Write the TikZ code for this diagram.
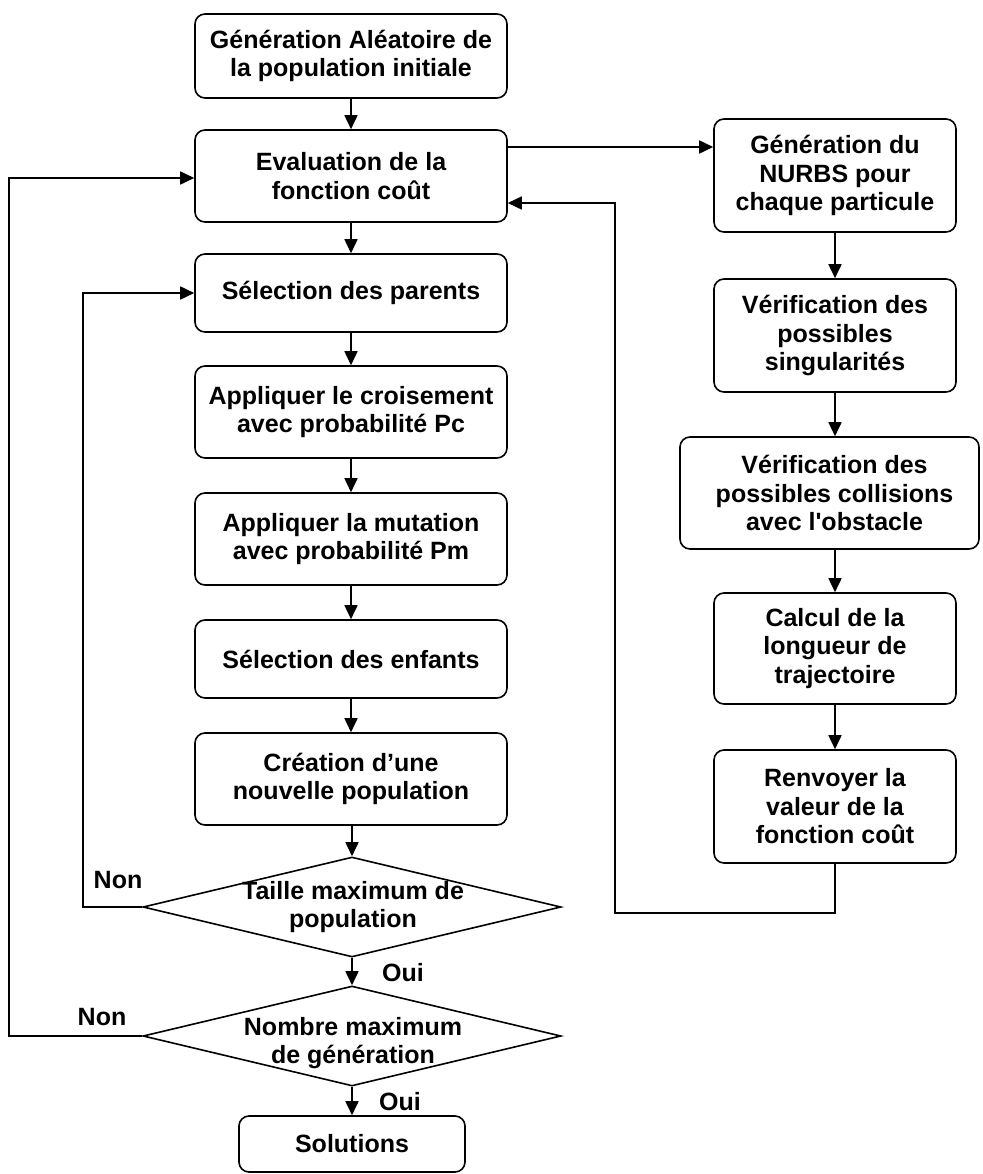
\documentclass[tikz,border=0pt]{standalone}
\usepackage{fontspec}
\setmainfont{Liberation Sans}[Ligatures=TeXOff]
\usetikzlibrary{arrows.meta,shapes.geometric,calc}
\begin{document}
\begin{tikzpicture}[x=1pt,y=-1pt,
  every node/.style={font=\bfseries\fontsize{25}{28.5}\selectfont},
  box/.style={draw, rounded corners=10pt, line width=1.6pt, align=center, inner sep=0pt},
  lbox/.style={box, minimum width=312pt},
  rbox/.style={box, minimum width=242pt, minimum height=112pt},
  dia/.style={draw, diamond, line width=1.6pt, minimum width=418pt, minimum height=100pt, inner sep=0pt},
  arr/.style={line width=1.7pt, -{Triangle[length=14pt,width=13pt]}},
  lbl/.style={inner sep=0pt}
]
\useasboundingbox (0,0) rectangle (982,1174);

% left column
\node[lbox, minimum height=84pt] (b1) at (351,56) {Génération Aléatoire de\\la population initiale};
\node[lbox, minimum height=92pt] (b2) at (351,176) {Evaluation de la\\fonction coût};
\node[lbox, minimum height=78pt] (b3) at (351,293) {Sélection des parents};
\node[lbox, minimum height=92pt] (b4) at (351,412) {Appliquer le croisement\\avec probabilité Pc};
\node[lbox, minimum height=92pt] (b5) at (351,539) {Appliquer la mutation\\avec probabilité Pm};
\node[lbox, minimum height=78pt] (b6) at (351,659) {Sélection des enfants};
\node[lbox, minimum height=92pt] (b7) at (351,779) {Création d’une\\nouvelle population};
\node[dia] (d1) at (352,907) {};
\node[lbl, align=center] (d1t) at (353,907) {Taille maximum de\\population};
\node[dia] (d2) at (352,1036) {};
\node[lbl, align=center] (d2t) at (353,1043) {Nombre maximum\\de génération};
\node[box, minimum width=226pt, minimum height=56pt] (sol) at (352,1144) {Solutions};

% right column
\node[rbox, minimum height=113pt] (r1) at (835,175.5) {Génération du\\NURBS pour\\chaque particule};
\node[rbox, minimum height=113pt] (r2) at (835,335.5) {Vérification des\\possibles\\singularités};
\node[box, minimum width=299pt, minimum height=112pt] (r3) at (829.5,493) {\hspace*{10pt}Vérification des\\\hspace*{10pt}possibles collisions\\\hspace*{10pt}avec l'obstacle};
\node[rbox, minimum height=111pt] (r4) at (835,648.5) {Calcul de la\\longueur de\\trajectoire};
\node[rbox, minimum height=113pt] (r5) at (835,806.5) {Renvoyer la\\valeur de la\\fonction coût};

% labels
\node[lbl] (non1) at (118,880) {Non};
\node[lbl] (non2) at (102,1017) {Non};
\node[lbl] (oui1) at (403,973) {Oui};
\node[lbl] (oui2) at (400,1102) {Oui};

% helper coordinates
\coordinate (l1) at (83,907);
\coordinate (l2) at (9,1036);
\coordinate (fb) at (615,913);
\coordinate (b2out) at ([yshift=29pt]b2.east);
\coordinate (b2in) at ([yshift=-27pt]b2.east);
\coordinate (b2left) at ([yshift=-2pt]b2.west);

% main flow
\draw[arr] (b1) -- (b2);
\draw[arr] (b2) -- (b3);
\draw[arr] (b3) -- (b4);
\draw[arr] (b4) -- (b5);
\draw[arr] (b5) -- (b6);
\draw[arr] (b6) -- (b7);
\draw[arr] (d1.north |- b7.south) -- (d1.north);
\draw[arr] (d1.south) -- (d2.north);
\draw[arr] (d2.south) -- (d2.south |- sol.north);

% loops on the left
\draw[arr] (d1.west) -- (l1) |- (b3.west);
\draw[arr] (d2.west) -- (l2) |- (b2left);

% right column
\draw[arr] (b2out) -- (b2out -| r1.west);
\draw[arr] (r1) -- (r2);
\draw[arr] (r2.south) -- (r2.south |- r3.north);
\draw[arr] (r2.south |- r3.south) -- (r4.north);
\draw[arr] (r4) -- (r5);
\draw[arr] (r5.south) |- (fb) |- (b2in);
\end{tikzpicture}
\end{document}
